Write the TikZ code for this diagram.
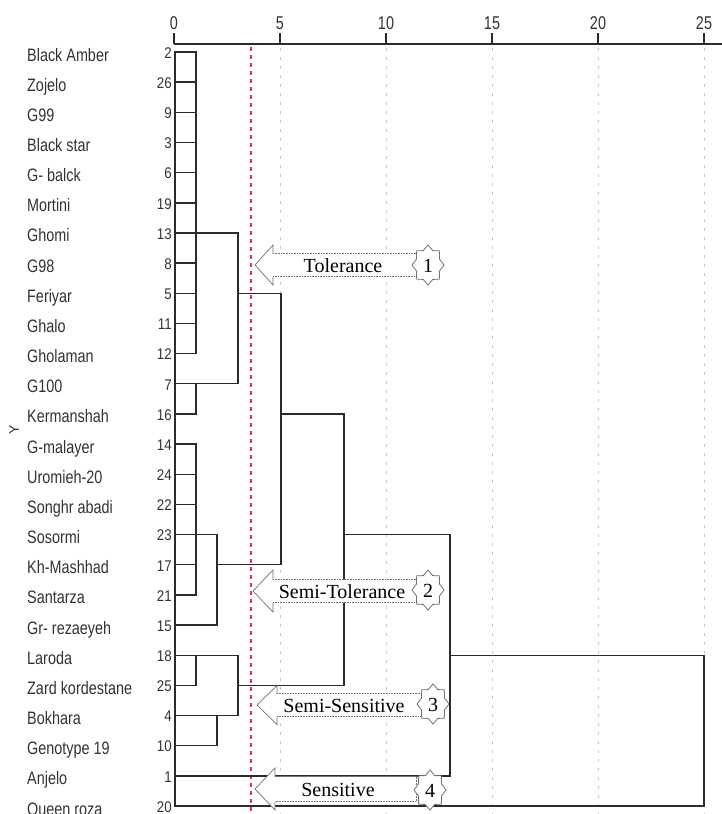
\documentclass[tikz,border=0pt]{standalone}
\usepackage{fontspec}
\setmainfont{Liberation Serif}
\setsansfont{Liberation Sans}
\usepackage{graphicx}
\definecolor{ink}{HTML}{2B2B2B}
\definecolor{labgray}{HTML}{333333}
\definecolor{gridgray}{HTML}{C8C8C8}
\definecolor{cutred}{HTML}{D03A5A}
\definecolor{callgray}{HTML}{707070}
\tikzset{
  dend/.style={draw=ink, line width=1.4pt, line cap=rect},
  axisline/.style={draw=ink, line width=1.6pt},
  gridline/.style={draw=gridgray, line width=0.9pt, dash pattern=on 3pt off 6pt},
  cutline/.style={draw=cutred, line width=1.6pt, dash pattern=on 4pt off 4pt},
  namelab/.style={anchor=base west, inner sep=0pt, text=labgray, font=\sffamily\fontsize{18}{18}\selectfont},
  numlab/.style={anchor=base east, inner sep=0pt, text=labgray, font=\sffamily\fontsize{15.5}{15.5}\selectfont},
  ticklab/.style={anchor=base, inner sep=0pt, text=labgray, font=\sffamily\fontsize{18.5}{18.5}\selectfont},
  calltext/.style={anchor=base, inner sep=0pt, text=black, font=\rmfamily\fontsize{20}{20}\selectfont},
  headline/.style={draw=callgray, line width=0.7pt},
  shaftline/.style={draw=callgray, line width=1pt, dash pattern=on 0.8pt off 0.8pt},
  badgeline/.style={draw=callgray, line width=0.8pt, fill=white},
}
\newcommand{\mycallout}[9]{%
  % #1 name, #2 tip x, #3 head back x, #4 shaft end x, #5 centre y, #6 half head, #7 half shaft, #8 text, #9 text x
  \fill[white] (#2,#5) -- (#3,{#5-#6}) -- (#3,{#5-#7}) -- (#4,{#5-#7}) -- (#4,{#5+#7}) -- (#3,{#5+#7}) -- (#3,{#5+#6}) -- cycle;
  \draw[headline] (#3,{#5-#7}) -- (#3,{#5-#6}) -- (#2,#5) -- (#3,{#5+#6}) -- (#3,{#5+#7});
  \draw[shaftline] (#3,{#5-#7}) -- (#4,{#5-#7}) -- (#4,{#5+#7}) -- (#3,{#5+#7});
  \node[calltext] (#1) at (#9,{#5+7}) {#8};}
\newcommand{\mybadge}[4]{%
  \draw[badgeline] ({#2+16},#3) \foreach \a/\r in {22.5/0.78,45/1,67.5/0.78,90/1,112.5/0.78,135/1,157.5/0.78,180/1,202.5/0.78,225/1,247.5/0.78,270/1,292.5/0.78,315/1,337.5/0.78} { -- ({#2+16*\r*cos(\a)},{#3+20*\r*sin(\a)}) } -- cycle;
  \node[calltext, anchor=center] (#1) at (#2,{#3+1}) {#4};}
\begin{document}
\begin{tikzpicture}[x=1pt,y=-1pt]
\useasboundingbox (0,0) rectangle (722,814);
\fill[white] (0,0) rectangle (722,814);

% grid lines and cut line
\foreach \v in {5,10,15,20,25} {
  \draw[gridline] ({174+21.2*\v},48) -- ({174+21.2*\v},814);
}
\draw[cutline] (250.7,47) -- (250.7,814);

% axis
\draw[axisline] (174,44) -- (722,44);
\foreach \v in {0,5,10,15,20,25} {
  \draw[axisline] ({174+21.2*\v},33) -- ({174+21.2*\v},44);
  \node[ticklab] (t\v) at ({174+21.2*\v},29) {\scalebox{0.78}[1]{\v}};
}

% row labels
\foreach \i/\nm/\num in {1/Black Amber/2, 2/Zojelo/26, 3/G99/9, 4/Black star/3, 5/G- balck/6, 6/Mortini/19, 7/Ghomi/13, 8/G98/8, 9/Feriyar/5, 10/Ghalo/11, 11/Gholaman/12, 12/G100/7, 13/Kermanshah/16, 14/G-malayer/14, 15/Uromieh-20/24, 16/Songhr abadi/22, 17/Sosormi/23, 18/Kh-Mashhad/17, 19/Santarza/21, 20/Gr- rezaeyeh/15, 21/Laroda/18, 22/Zard kordestane/25, 23/Bokhara/4, 24/Genotype 19/10, 25/Anjelo/1, 26/Queen roza/20} {
  \pgfmathsetmacro\yy{52+(\i-1)*30.16}
  \coordinate (r\i) at (175,\yy);
  \node[namelab] (n\i) at (27,{\yy+9}) {\scalebox{0.8}[1]{\nm}};
  \node[numlab] (k\i) at (172,{\yy+6.3}) {\scalebox{0.86}[1]{\num}};
}
\node[inner sep=0pt, text=labgray, font=\sffamily\fontsize{14}{14}\selectfont, rotate=90] (ylab) at (14,430) {Y};

% merge levels
\coordinate (xa) at (196,0);
\coordinate (xb) at (217,0);
\coordinate (xc) at (238,0);
\coordinate (xd) at (281,0);
\coordinate (xe) at (344,0);
\coordinate (xf) at (450,0);
\coordinate (xg) at (704,0);

% dendrogram
\foreach \i in {1,...,19} { \draw[dend] (r\i) -- (r\i -| xa); }
\draw[dend] (r1 -| xa) -- (r11 -| xa);
\draw[dend] (r7 -| xa) -- (r7 -| xc);
\draw[dend] (r12 -| xa) -- (r13 -| xa);
\draw[dend] (r12 -| xa) -- (r12 -| xc);
\draw[dend] (r7 -| xc) -- (r12 -| xc);
\draw[dend] (r9 -| xc) -- (r9 -| xd);
\draw[dend] (r14 -| xa) -- (r19 -| xa);
\draw[dend] (r17 -| xa) -- (r17 -| xb);
\draw[dend] (r20) -- (r20 -| xb);
\draw[dend] (r17 -| xb) -- (r20 -| xb);
\draw[dend] (r18 -| xb) -- (r18 -| xd);
\draw[dend] (r9 -| xd) -- (r18 -| xd);
\draw[dend] (r13 -| xd) -- (r13 -| xe);
\draw[dend] (r21) -- (r21 -| xc);
\draw[dend] (r22) -- (r22 -| xa);
\draw[dend] (r21 -| xa) -- (r22 -| xa);
\draw[dend] (r23) -- (r23 -| xc);
\draw[dend] (r24) -- (r24 -| xb);
\draw[dend] (r23 -| xb) -- (r24 -| xb);
\draw[dend] (r21 -| xc) -- (r23 -| xc);
\draw[dend] (r22 -| xc) -- (r22 -| xe);
\draw[dend] (r13 -| xe) -- (r22 -| xe);
\draw[dend] (r17 -| xe) -- (r17 -| xf);
\draw[dend] (r25) -- (r25 -| xf);
\draw[dend] (r17 -| xf) -- (r25 -| xf);
\draw[dend] (r21 -| xf) -- (r21 -| xg);
\draw[dend] (r26) -- (r26 -| xg);
\draw[dend] (r21 -| xg) -- (r26 -| xg);
\draw[dend] (r1) -- (r26);

% callouts
\mycallout{c1}{255}{273}{418}{265}{20}{11.5}{Tolerance}{343}
\mycallout{c2}{253}{273}{418}{591}{21}{11.5}{Semi-Tolerance}{342}
\mycallout{c3}{257}{277}{422}{705}{19.5}{11.5}{Semi-Sensitive}{344}
\mycallout{c4}{255}{275}{416}{789}{21}{12.5}{Sensitive}{338}
\mybadge{b1}{428}{265}{1}
\mybadge{b2}{428}{590}{2}
\mybadge{b3}{433}{704}{3}
\mybadge{b4}{430}{790}{4}
\end{tikzpicture}
\end{document}
